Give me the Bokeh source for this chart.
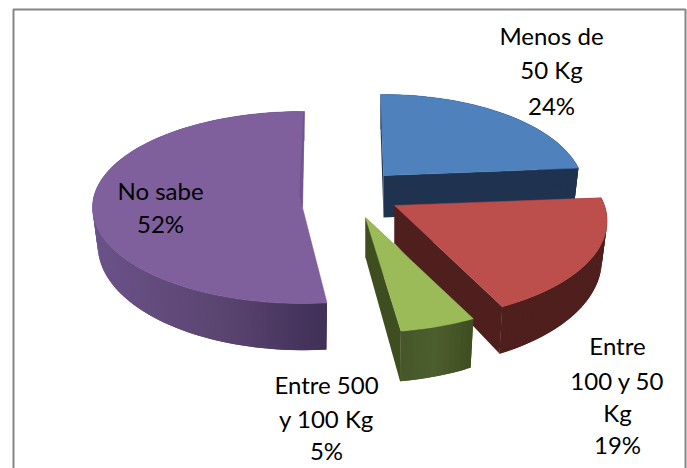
import math
from bokeh.plotting import figure
from bokeh.models import Range1d
from bokeh.core.properties import value
from bokeh.embed import file_html
from bokeh.resources import INLINE

categories = ["Menos de 50 Kg", "Entre 100 y 50 Kg", "Entre 500 y 100 Kg", "No sabe"]
shares = [24, 19, 5, 52]
label_lines = [["Menos de", "50 Kg", "24%"],
               ["Entre", "100 y 50", "Kg", "19%"],
               ["Entre 500", "y 100 Kg", "5%"],
               ["No sabe", "52%"]]

# layout (picture pixels)
label_x = [551, 617, 326, 160]
label_y = [[35, 69, 105], [345, 380, 412, 444], [384, 418, 450], [190, 223]]
geom = [dict(ax=383, ay=175, R=198, K=93.6, p=0.156, D=42, rot=-1.0),
        dict(ax=394, ay=205, R=210, K=97.0, p=0.156, D=38, rot=-1.0),
        dict(ax=365, ay=217, R=210, K=97.0, p=0.156, D=40, rot=-1.0),
        dict(ax=302, ay=207, R=210, K=96.0, p=0.0, D=38, rot=0.5)]
top_col = ["#4F81BD", "#BC4E4B", "#9BBB59", "#7F609D"]
cut_col = ["#1F3350", "#4F1F1E", "#3F4E20", "#705590"]
side_stops = [[(0, "#1F3350"), (1, "#1F3350")],
              [(0, "#4F1F1E"), (1, "#4F1F1E")],
              [(0, "#465629"), (0.5, "#4D5E2E"), (1, "#3F4D20")],
              [(0, "#6B5289"), (0.55, "#5A4570"), (1, "#402F57")]]
SX, SY = 0.975, 1.09

W, H = 687, 468
p = figure(width=W, height=H, output_backend="svg", toolbar_location=None,
           x_range=Range1d(0, W), y_range=Range1d(H, 0),
           min_border=0, outline_line_color=None, background_fill_color="white")
p.axis.visible = False
p.grid.visible = False

# chart frame, open at the bottom
p.line([13, 13, 685, 685], [468, 9, 9, 468], line_color="#868686", line_width=2)


def proj(g, a, low=False):
    r = math.radians(a + g["rot"])
    X, Z = math.sin(r), math.cos(r)
    w = 1 + g["p"] * Z
    sx, sy = g["R"] * X / w, -g["K"] * Z / w
    if low:
        return g["ax"] + SX * sx, g["ay"] + g["D"] + SY * sy
    return g["ax"] + sx, g["ay"] + sy


def mix(stops, t):
    for (t0, c0), (t1, c1) in zip(stops, stops[1:]):
        if t <= t1:
            f = (t - t0) / (t1 - t0)
            v = [round(int(c0[i:i+2], 16) * (1 - f) + int(c1[i:i+2], 16) * f) for i in (1, 3, 5)]
            return "#%02X%02X%02X" % tuple(v)
    return stops[-1][1]


bounds = []
acc = 0
for s in shares:
    bounds.append((acc * 3.6, (acc + s) * 3.6))
    acc += s

for i in [0, 3, 1, 2]:
    g = geom[i]
    a0, a1 = bounds[i]
    n = max(8, int((a1 - a0) / 1.5))
    angles = [a0 + (a1 - a0) * k / n for k in range(n + 1)]
    apex = (g["ax"], g["ay"])
    apex_low = (g["ax"], g["ay"] + g["D"])
    for a in (a0, a1):
        if i == 3:
            continue
        o = proj(g, a)
        ol = proj(g, a, True)
        p.patch([apex[0], o[0], ol[0], apex_low[0]], [apex[1], o[1], ol[1], apex_low[1]],
                fill_color=cut_col[i], line_color=None)
    pts = [proj(g, a) for a in angles]
    low = [proj(g, a, True) for a in angles]
    xs = [q[0] for q in pts]
    xmin, xmax = min(xs), max(xs)
    order = range(n) if i != 3 else range(n - 1, -1, -1)
    for k in order:
        t = ((pts[k][0] + pts[k + 1][0]) / 2 - xmin) / (xmax - xmin)
        c = mix(side_stops[i], t)
        j0, j1 = (k, min(k + 2, n)) if i != 3 else (max(k - 1, 0), k + 1)
        p.patch([pts[j0][0], pts[j1][0], low[j1][0], low[j0][0]],
                [pts[j0][1], pts[j1][1], low[j1][1], low[j0][1]],
                fill_color=c, line_color=None)
    p.patch([apex[0]] + xs, [apex[1]] + [q[1] for q in pts],
            fill_color=top_col[i], line_color=top_col[i], line_width=0.5)
    if i == 3:
        o = proj(g, a1)
        p.patch([o[0], apex[0], apex[0] - 3, o[0] - 1],
                [o[1], apex[1], apex[1] - 12, o[1] + 2],
                fill_color=cut_col[i], line_color=cut_col[i], line_width=0.3)

for i, lines in enumerate(label_lines):
    p.text([label_x[i]] * len(lines), label_y[i], text=lines, text_font=value("Lato"),
           text_font_size="24px", text_color="#000000", text_align="center",
           text_baseline="middle")

open("out.html", "w").write(file_html(p, INLINE))
